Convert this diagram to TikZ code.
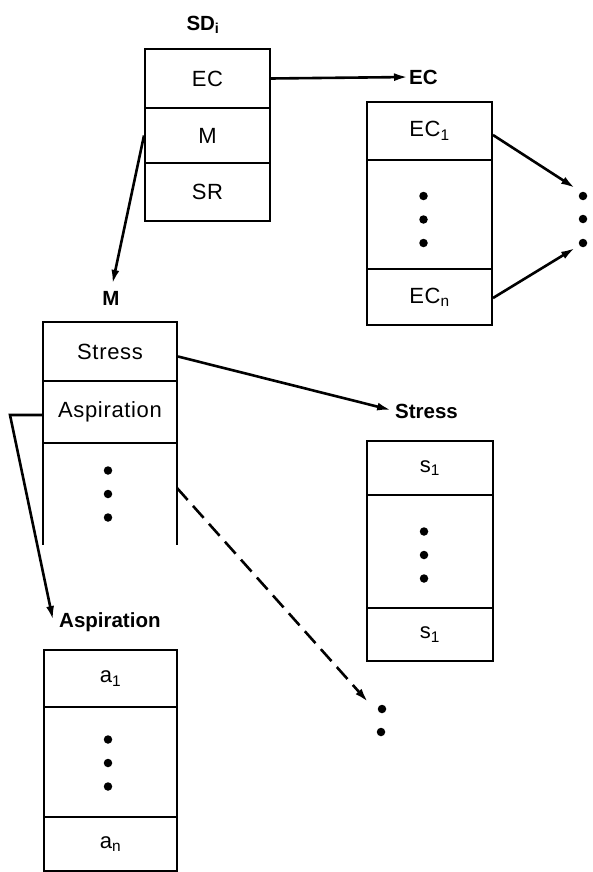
\documentclass[tikz,border=0pt]{standalone}
\usepackage{fontspec}
\setmainfont{Liberation Sans}
\newfontfamily\cellfont[LetterSpace=3]{Liberation Sans}
\usetikzlibrary{arrows.meta,calc}
\begin{document}
\begin{tikzpicture}[x=1pt,y=-1pt,
  cell/.style={draw,line width=2pt,inner sep=0pt,font=\cellfont\fontsize{22}{26}\selectfont},
  lbl/.style={font=\bfseries\fontsize{20.5}{24}\selectfont,inner sep=0pt},
  arr/.style={line width=2.6pt,-{Latex[length=14pt,width=8pt]}},
  dotn/.style={circle,fill,inner sep=0pt,minimum size=8.5pt},
  side/.style={line width=2pt},
]
\useasboundingbox (0,0) rectangle (592,872);

% SD box
\node[cell,minimum width=125pt,minimum height=59pt] (sdEC) at (207.5,78.5) {EC};
\node[cell,minimum width=125pt,minimum height=55pt] (sdM)  at (207.5,135.5) {M};
\node[cell,minimum width=125pt,minimum height=58pt] (sdSR) at (207.5,192) {SR};
\node[lbl] (sdLbl) at (203,25) {SD\textsubscript{i}};

% EC box
\node[cell,minimum width=125pt,minimum height=58pt] (ecOne) at (429.5,131) {EC\textsubscript{1}};
\node[cell,minimum width=125pt,minimum height=109pt] (ecMid) at (429.5,214.5) {};
\node[cell,minimum width=125pt,minimum height=56pt] (ecN) at (429.5,297) {EC\textsubscript{n}};
\node[lbl,anchor=west] (ecLbl) at (409,77) {EC};
\foreach \d/\n in {-23.5/1,0/2,23.5/3}
  \node[dotn] (ecd\n) at ($(ecMid.center)+(-6,\d+5)$) {};

% right dots
\node[dotn] (rd1) at (583,196) {};
\node[dotn] (rd2) at (583,219) {};
\node[dotn] (rd3) at (583,243) {};
\coordinate (ecT1) at (575,188);
\coordinate (ecT2) at (575,248);

% M box
\node[cell,minimum width=134pt,minimum height=59pt] (mStress) at (110,351.5) {Stress};
\node[cell,minimum width=134pt,minimum height=62pt] (mAsp) at (110,412) {Aspiration};
\node[minimum width=134pt,minimum height=102pt,inner sep=0pt] (mOpen) at (110,494) {};
\draw[side] (mOpen.north west) -- (mOpen.south west);
\draw[side] (mOpen.north east) -- (mOpen.south east);
\foreach \d/\n in {-23.5/1,0/2,23.5/3}
  \node[dotn] (md\n) at ($(mOpen.center)+(-2,\d)$) {};
\node[lbl] (mLbl) at (111,298) {M};

% Stress box
\node[cell,minimum width=126pt,minimum height=54pt] (sOne) at (430,468) {s\textsubscript{1}};
\node[cell,minimum width=126pt,minimum height=113pt] (sMid) at (430,551.5) {};
\node[cell,minimum width=126pt,minimum height=53pt] (sN) at (430,634.5) {s\textsubscript{1}};
\node[lbl,anchor=west] (stLbl) at (395,411) {Stress};
\foreach \d/\n in {-23.5/1,0/2,23.5/3}
  \node[dotn] (sd\n) at ($(sMid.center)+(-6,\d+3.5)$) {};

% Aspiration box
\node[cell,minimum width=133pt,minimum height=57pt] (aOne) at (110.5,678.5) {a\textsubscript{1}};
\node[cell,minimum width=133pt,minimum height=110pt] (aMid) at (110.5,762) {};
\node[cell,minimum width=133pt,minimum height=54pt] (aN) at (110.5,844) {a\textsubscript{n}};
\node[lbl,anchor=west] (asLbl) at (59,622) {Aspiration};
\foreach \d/\n in {-23.5/1,0/2,23.5/3}
  \node[dotn] (ad\n) at ($(aMid.center)+(-2.5,\d+1)$) {};

% dashed target dots
\node[dotn] (dd1) at (382,709) {};
\node[dotn] (dd2) at (381,732) {};
\coordinate (dashStart) at (177,488);
\coordinate (dashEnd) at (368,702);
\coordinate (aspBend) at (10,415);

% connectors
\draw[arr,shorten >=1pt] (sdEC.east) -- (ecLbl.west);
\draw[arr,shorten >=7pt] (sdM.west) -- (mLbl.north);
\draw[arr,shorten >=4pt] ($(mStress.east)+(0,5)$) -- (stLbl.west);
\draw[arr] ($(mAsp.west)+(0,3)$) -- (aspBend) -- ($(asLbl.west)+(-6,-2)$);
\draw[arr] ($(ecOne.east)+(0,4)$) -- (ecT1);
\draw[arr] ($(ecN.east)+(0,1)$) -- (ecT2);
\draw[arr,dash pattern=on 16pt off 8pt] (dashStart) -- (dashEnd);
\end{tikzpicture}
\end{document}
